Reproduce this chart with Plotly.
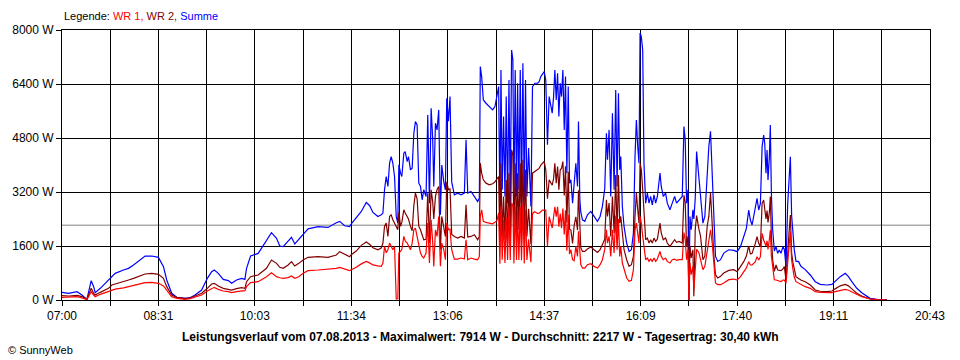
import plotly.graph_objects as go

# time axis: minutes after 07:00
minutes = [
    0, 6.3, 14.2, 18.9, 23.6, 25.2, 27.7, 30.0, 31.5, 36.3,
    39.4, 44.1, 47.3, 50.4, 58.3, 63.1, 67.8, 74.1, 78.8, 85.1,
    91.4, 96.2, 99.3, 104.0, 108.8, 116.7, 121.4, 126.1, 132.4, 137.8,
    141.9, 144.4, 148.2, 152.9, 157.7, 160.8, 165.5, 170.3, 173.4, 175.0,
    178.8, 186.0, 193.9, 198.6, 203.4, 206.5, 209.7, 214.4, 217.6, 220.7,
    224.5, 228.6, 233.3, 242.8, 252.2, 260.1, 263.3, 268.0, 272.7, 274.3,
    279.0, 283.8, 288.5, 291.6, 294.8, 299.5, 302.7, 304.3, 305.8, 307.4,
    309.0, 310.6, 312.1, 313.7, 315.3, 316.9, 318.4, 319.4, 321.0, 322.2,
    324.1, 325.4, 327.3, 328.5, 330.4, 332.0, 333.6, 335.1, 336.7, 338.3,
    339.9, 341.5, 343.0, 345.2, 346.8, 348.4, 350.0, 351.5, 352.5, 354.1,
    355.6, 357.2, 358.8, 360.1, 362.0, 363.5, 364.8, 366.4, 367.9, 369.5,
    372.0, 375.2, 378.4, 381.5, 383.1, 384.7, 387.8, 391.0, 394.1, 395.7,
    396.6, 397.9, 399.5, 402.0, 405.2, 408.3, 410.5, 412.4, 414.0, 415.2,
    416.2, 417.4, 418.7, 420.0, 421.2, 422.5, 423.8, 425.0, 426.3, 427.5,
    428.5, 429.7, 431.0, 432.0, 433.2, 434.5, 435.7, 437.0, 438.3, 439.5,
    440.8, 442.4, 444.6, 446.1, 448.3, 450.9, 452.4, 454.0, 455.6, 457.2,
    458.7, 460.3, 461.9, 464.8, 466.1, 467.3, 468.6, 469.9, 471.1, 472.4,
    473.6, 474.9, 476.2, 477.4, 478.7, 480.0, 481.2, 482.5, 484.1, 485.6,
    487.2, 488.8, 489.7, 491.0, 491.9, 493.5, 495.7, 498.2, 501.4, 504.5,
    507.7, 510.2, 512.4, 514.6, 516.2, 517.2, 518.7, 520.3, 521.9, 523.5,
    525.0, 526.3, 527.6, 528.8, 529.8, 531.3, 532.9, 535.4, 537.7, 539.9,
    541.8, 543.3, 544.6, 545.9, 547.1, 548.1, 549.3, 550.6, 551.8, 553.4,
    555.0, 556.6, 558.1, 559.7, 561.3, 562.9, 564.5, 567.0, 568.2, 570.1,
    572.3, 573.9, 576.4, 578.6, 580.9, 582.7, 585.0, 588.1, 589.7, 590.9,
    592.2, 593.5, 594.4, 595.4, 596.6, 598.2, 599.1, 600.4, 601.7, 603.9,
    605.4, 607.7, 609.5, 611.8, 613.3, 614.9, 616.5, 618.1, 619.6, 621.8,
    624.4, 627.5, 632.2, 637.0, 640.1, 643.3, 646.4, 648.9, 651.1, 652.7,
    654.3, 657.4, 659.0, 660.6, 662.2, 663.8, 665.3, 666.3, 667.5, 668.5,
    669.4, 670.7, 671.6, 672.6, 673.8, 675.4, 677.0, 678.6, 680.1, 681.7,
    683.6, 684.9, 686.5, 688.0, 689.3, 690.6, 691.8, 693.1, 694.3, 695.9,
    698.4, 700.6, 704.7, 709.5, 714.2, 718.9, 725.2, 730.0, 733.1, 737.9,
    742.6, 745.7, 748.9, 753.6, 758.3, 761.5, 766.2, 772.5, 782.0,
]

summe = [
    227, 198, 247, 148, 20, 250, 573, 395, 217, 346,
    444, 593, 691, 790, 889, 938, 1037, 1185, 1300, 1304,
    1264, 988, 593, 198, 79, 49, 69, 148, 296, 642,
    840, 889, 790, 612, 573, 494, 593, 642, 612, 938,
    1304, 1380, 1778, 1995, 1827, 1600, 1580, 1728, 1857, 1659,
    1798, 1950, 2110, 2173, 2150, 2291, 2330, 2200, 2173, 2259,
    2427, 2624, 2890, 2801, 2594, 2476, 2525, 2575, 3265, 3660,
    3364, 4054, 4251, 4054, 3660, 2476, 2279, 4005, 3758, 3660,
    4350, 4399, 4103, 4251, 3857, 3906, 4942, 5287, 5188, 3462,
    3364, 2969, 3265, 3068, 5484, 2870, 5682, 4745, 3364, 5238,
    5040, 5632, 2525, 4000, 3500, 3265, 5978, 5300, 6027, 3500,
    3117, 3166, 3117, 3166, 4745, 3166, 3216, 3068, 2920, 3018,
    6915, 6619, 5928, 5830, 5731, 5632, 5731, 6027, 6323, 2673,
    6816, 3265, 5435, 3068, 6027, 2870, 6520, 2772, 7408, 7112,
    2969, 6816, 3068, 6422, 3265, 6816, 2870, 7013, 2969, 6520,
    3068, 4500, 2772, 6323, 6422, 6422, 6471, 6619, 6717, 6767,
    6520, 4600, 6027, 5534, 6027, 6816, 5928, 6717, 5435, 6422,
    6027, 6816, 5040, 6619, 3758, 6323, 3462, 3561, 2870, 3364,
    4054, 3364, 5287, 2969, 2600, 2377, 2328, 2525, 2624, 2476,
    2328, 2476, 2772, 3300, 4942, 4153, 5040, 3068, 5534, 3265,
    6225, 3364, 6126, 3857, 4251, 2772, 2180, 1687, 1440, 1489,
    1983, 4251, 5336, 4547, 4054, 7914, 7802, 7408, 4054, 2870,
    3166, 2870, 3068, 2821, 3117, 2870, 3068, 3758, 3364, 3068,
    3166, 2870, 2673, 2870, 3068, 2870, 2969, 3068, 5139, 4745,
    2870, 3265, 10, 2476, 2081, 2673, 2400, 3000, 4400, 3561,
    3068, 2279, 2476, 3660, 4547, 5000, 3600, 2100, 1292, 1144,
    1194, 1391, 1489, 1470, 1432, 1580, 1926, 2124, 2667, 2370,
    2222, 2766, 3012, 2667, 2864, 4543, 4889, 4642, 3753, 4445,
    3556, 4247, 5185, 3161, 2100, 1450, 1580, 1383, 1482, 1383,
    1580, 1500, 988, 2800, 3600, 4247, 2500, 1900, 1500, 1150,
    1136, 1000, 900, 741, 543, 464, 444, 464, 563, 691,
    790, 691, 543, 346, 217, 148, 49, 20, 10,
]

wr2 = [
    128, 118, 138, 99, 20, 150, 346, 198, 148, 227,
    280, 346, 444, 470, 543, 593, 642, 721, 770, 790,
    760, 642, 395, 148, 79, 49, 59, 118, 198, 346,
    474, 494, 415, 346, 316, 296, 336, 366, 346, 543,
    691, 741, 938, 1185, 1086, 968, 938, 1037, 1136, 1007,
    1086, 1185, 1264, 1284, 1264, 1333, 1432, 1363, 1284, 1342,
    1450, 1620, 1720, 1650, 1550, 1489, 1539, 1687, 2180, 2279,
    1884, 2476, 2525, 2377, 2279, 2180, 2081, 2600, 2180, 2300,
    2673, 2575, 2476, 2400, 2180, 2050, 2800, 3166, 3000, 2180,
    2081, 1884, 1785, 1800, 3166, 1700, 3265, 2900, 2400, 3068,
    3265, 3364, 1500, 2476, 2081, 1884, 3500, 3265, 3300, 1950,
    1884, 1835, 1884, 1835, 2821, 1864, 1884, 1933, 1785, 1884,
    4054, 3758, 3561, 3462, 3413, 3443, 3500, 3600, 3660, 1600,
    4054, 1884, 3068, 1788, 3561, 1687, 3758, 1588, 4449, 4300,
    1884, 4054, 1884, 3758, 2081, 4054, 1690, 4153, 1884, 3857,
    1884, 2700, 1650, 3758, 3808, 3857, 3900, 4000, 4054, 4103,
    3857, 3000, 3561, 3400, 3600, 4054, 3462, 3957, 3266, 3858,
    3900, 4103, 3100, 3961, 2300, 3800, 2100, 2072, 1676, 2200,
    2466, 2072, 3250, 1775, 1550, 1440, 1440, 1509, 1568, 1489,
    1411, 1489, 1637, 1800, 2969, 2476, 2870, 1884, 3068, 1983,
    3700, 1983, 3700, 2279, 2476, 1884, 1489, 1194, 996, 1046,
    1292, 2476, 3166, 2673, 2279, 4054, 3857, 3265, 2476, 1785,
    1835, 1687, 1785, 1687, 1835, 1736, 1805, 2279, 1983, 1785,
    1835, 1687, 1588, 1687, 1785, 1707, 1736, 1687, 3100, 2900,
    1588, 1884, 10, 1588, 1250, 1489, 109, 2081, 2500, 2100,
    1900, 1194, 1292, 2200, 2476, 3166, 2081, 1292, 750, 651,
    700, 799, 878, 898, 840, 988, 1136, 1300, 1600, 1363,
    1383, 1679, 1877, 1679, 1580, 2864, 2963, 2700, 2400, 2650,
    2300, 2600, 3062, 1900, 1200, 850, 1037, 889, 889, 869,
    920, 988, 593, 1580, 1975, 2519, 1383, 1100, 900, 691,
    640, 593, 543, 444, 296, 260, 247, 267, 330, 420,
    464, 420, 330, 198, 120, 85, 30, 10, 5,
]

wr1 = [
    79, 79, 99, 59, 10, 100, 247, 148, 99, 168,
    200, 247, 296, 320, 360, 395, 430, 474, 514, 523,
    494, 415, 277, 99, 49, 20, 40, 79, 148, 267,
    346, 375, 316, 267, 247, 217, 247, 277, 277, 395,
    514, 543, 691, 810, 691, 660, 642, 662, 711, 642,
    691, 790, 869, 889, 909, 938, 968, 909, 869, 898,
    970, 1070, 1144, 1100, 1040, 1010, 996, 1095, 1588, 1400,
    1489, 1687, 1588, 1489, 1588, 30, 30, 1400, 1440, 1500,
    1884, 1750, 1687, 1588, 1489, 1687, 2081, 2131, 1884, 1588,
    1391, 1292, 1243, 1391, 2279, 1095, 2377, 1700, 996, 2081,
    1884, 2476, 1000, 1687, 1489, 1194, 2279, 2081, 2100, 1489,
    1213, 1213, 1243, 1213, 1785, 1194, 1243, 1213, 1194, 1292,
    2476, 2673, 2328, 2298, 2279, 2259, 2300, 2350, 2575, 1073,
    2762, 1194, 2367, 1095, 2466, 1183, 2762, 1184, 2870, 2812,
    1085, 2762, 1184, 2664, 1184, 2762, 1180, 2860, 1085, 2663,
    1184, 1800, 1122, 2565, 2614, 2565, 2571, 2619, 2663, 2664,
    2663, 1600, 2466, 2134, 2427, 2762, 2466, 2760, 2169, 2564,
    2127, 2713, 1940, 2658, 1458, 2523, 1362, 1489, 1194, 1164,
    1588, 1292, 2037, 1194, 1050, 947, 947, 1046, 1075, 996,
    947, 1046, 1194, 1500, 2081, 1687, 1884, 1292, 2081, 1391,
    2500, 1489, 2400, 1292, 1588, 1095, 898, 651, 552, 582,
    898, 2081, 2279, 1884, 1687, 2476, 2279, 1884, 1588, 1194,
    1243, 1144, 1213, 1144, 1243, 1144, 1213, 1440, 1292, 1194,
    1243, 1144, 1095, 1194, 1213, 1174, 1194, 1194, 2000, 1800,
    1194, 1489, 10, 1095, 750, 996, 306, 1095, 1500, 1400,
    1168, 898, 996, 1460, 1687, 2081, 1687, 898, 503, 454,
    454, 503, 602, 621, 593, 691, 840, 950, 1136, 1037,
    1037, 1136, 1284, 1185, 1284, 1975, 1778, 1700, 1600, 1750,
    1500, 1800, 2074, 1300, 900, 600, 593, 580, 560, 543,
    593, 593, 494, 1185, 1580, 2025, 1185, 900, 680, 543,
    500, 464, 395, 346, 247, 225, 217, 217, 250, 290,
    316, 290, 240, 148, 95, 70, 30, 10, 5,
]

x_tick_labels = ["07:00", "08:31", "10:03", "11:34", "13:06",
                 "14:37", "16:09", "17:40", "19:11", "20:43"]
y_tick_values = [0, 1600, 3200, 4800, 6400, 8000]
average_w = 2217
day_span_min = 823  # 07:00 .. 20:43

FONT = "Liberation Sans"

grid_vals = [day_span_min * i / 18 for i in range(19)]
grid_text = [x_tick_labels[i // 2] if i % 2 == 0 else "" for i in range(19)]

fig = go.Figure()
fig.add_trace(go.Scatter(x=minutes, y=summe, mode="lines", name="Summe",
                         line=dict(color="#0000FF", width=1.2)))
fig.add_trace(go.Scatter(x=minutes, y=wr2, mode="lines", name="WR 2",
                         line=dict(color="#800000", width=1.2)))
fig.add_trace(go.Scatter(x=minutes, y=wr1, mode="lines", name="WR 1",
                         line=dict(color="#FF0000", width=1.2)))

fig.add_shape(type="line", xref="paper", x0=0, x1=1, yref="y",
              y0=average_w, y1=average_w, layer="below",
              line=dict(color="#808080", width=1))

fig.update_layout(
    width=960, height=360,
    margin=dict(l=60, r=30, t=30, b=60),
    paper_bgcolor="white", plot_bgcolor="white",
    showlegend=False,
    font=dict(family=FONT, size=11, color="black"),
    xaxis=dict(range=[0, day_span_min], tickmode="array",
               tickvals=grid_vals, ticktext=grid_text,
               showgrid=True, gridcolor="black", gridwidth=1,
               showline=True, linecolor="black", linewidth=1, mirror=True,
               ticks="outside", ticklen=5, tickcolor="black",
               zeroline=False, tickfont=dict(family=FONT, size=12)),
    yaxis=dict(range=[0, 8000], tickmode="array",
               tickvals=y_tick_values,
               ticktext=[f"{v} W" for v in y_tick_values],
               showgrid=True, gridcolor="black", gridwidth=1,
               showline=True, linecolor="black", linewidth=1, mirror=True,
               ticks="outside", ticklen=5, tickcolor="black",
               zeroline=False, tickfont=dict(family=FONT, size=12)),
)

fig.add_annotation(
    xref="paper", yref="paper", x=0, y=(300 - 16) / 270,
    xanchor="left", yanchor="middle", showarrow=False,
    text=("Legende: <span style='color:#FF0000'>WR 1,</span> "
          "<span style='color:#800000'>WR 2,</span> "
          "<span style='color:#0000FF'>Summe</span>"),
    font=dict(family=FONT, size=11, color="black"))

fig.add_annotation(
    xref="paper", yref="paper", x=(479 - 60) / 870, y=(300 - 337) / 270,
    xanchor="center", yanchor="middle", showarrow=False,
    text=("<b>Leistungsverlauf vom 07.08.2013 - Maximalwert: 7914 W - "
          "Durchschnitt: 2217 W - Tagesertrag: 30,40 kWh</b>"),
    font=dict(family=FONT, size=12, color="black"))

fig.add_annotation(
    xref="paper", yref="paper", x=(4 - 60) / 870, y=(300 - 350) / 270,
    xanchor="left", yanchor="middle", showarrow=False,
    text="© SunnyWeb",
    font=dict(family=FONT, size=11, color="black"))

fig.write_html("out.html",
               config={"displayModeBar": False, "staticPlot": True},
               post_script="document.body.style.margin='0';"
                           "document.body.style.padding='0';")
